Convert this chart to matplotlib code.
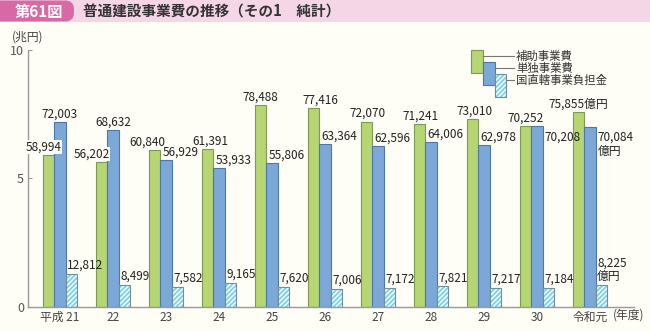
import matplotlib.pyplot as plt, numpy as np
from matplotlib import font_manager
from matplotlib.patches import Rectangle, FancyBboxPatch

# 普通建設事業費（純計）, 単位: 億円
years = ["平成 21", "22", "23", "24", "25", "26", "27", "28", "29", "30", "令和元"]
hojo = [58994, 56202, 60840, 61391, 78488, 77416, 72070, 71241, 73010, 70252, 75855]
tandoku = [72003, 68632, 56929, 53933, 55806, 63364, 62596, 64006, 62978, 70208, 70084]
chokkatsu = [12812, 8499, 7582, 9165, 7620, 7006, 7172, 7821, 7217, 7184, 8225]
series_names = ["補助事業費", "単独事業費", "国直轄事業負担金"]


def has_font(name):
    try:
        font_manager.findfont(name, fallback_to_default=False)
        return True
    except ValueError:
        return False


JP = ["Noto Sans CJK JP", "DejaVu Sans"]
NUM = ["Liberation Sans Narrow"] + JP if has_font("Liberation Sans Narrow") else JP
plt.rcParams["font.family"] = JP

BG = "#fefdf6"
GREEN, GREEN_E = "#b6d674", "#7d9a55"
BLUE, BLUE_E = "#7ba8d7", "#4e77a6"
CYAN, CYAN_E = "#7fd3ea", "#6f8f99"
TXT = "#222222"

fig = plt.figure(figsize=(6.5, 3.32), dpi=100, facecolor=BG)
ax = fig.add_axes([27.5 / 650, 25.5 / 332, (634 - 27.5) / 650, (306.5 - 50) / 332])
ax.patch.set_alpha(0)

x = np.arange(len(years))
w = 0.213
g = np.array(hojo) / 10000
b = np.array(tandoku) / 10000
c = np.array(chokkatsu) / 10000

ax.bar(x - w, g, w, color=GREEN, edgecolor=GREEN_E, lw=0.8, zorder=2)
ax.bar(x, b, w, color=BLUE, edgecolor=BLUE_E, lw=0.8, zorder=2)
ax.bar(x + w, c, w, color=CYAN, edgecolor="white", hatch="///////", lw=0, zorder=2)
ax.bar(x + w, c, w, color="none", edgecolor=CYAN_E, lw=0.8, zorder=3)

ax.set_xlim(-0.613, 10.83)
ax.set_ylim(0, 10)
ax.set_yticks([0, 5, 10])
ax.set_xticks(x)
ax.set_xticklabels(years)
ax.tick_params(axis="y", direction="in", length=3, width=0.8, color="#999999",
               pad=2.5, labelsize=9, labelcolor="#555555")
ax.tick_params(axis="x", length=0, pad=3, labelsize=8.5, labelcolor="#444444")
for s in ["top", "right"]:
    ax.spines[s].set_visible(False)
for s in ["left", "bottom"]:
    ax.spines[s].set_color("#9a9a9a")
    ax.spines[s].set_linewidth(1)

lab = dict(textcoords="offset pixels", fontsize=8.5, color=TXT, family=NUM, zorder=5)
halo = dict(boxstyle="square,pad=0.05", facecolor=BG, edgecolor="none")

# 補助事業費
g_dx = [-5, -10, -7, 3, 0, 7, 1, 1, 2, 0, 0]
for i, v in enumerate(hojo):
    t = f"{v:,}" + ("億円" if i == len(hojo) - 1 else "")
    ax.annotate(t, (x[i] - w, g[i]), xytext=(g_dx[i], 1.5), ha="center", va="bottom",
                bbox=halo, **lab)

# 単独事業費
for i, v in enumerate(tandoku):
    t = f"{v:,}"
    if i >= 9:
        if i == len(tandoku) - 1:
            t += "\n億円"
        ax.annotate(t, (x[i] + w / 2, b[i]), xytext=(2, -4), ha="left", va="top",
                    linespacing=1.1, **lab)
    elif b[i] > g[i]:
        ax.annotate(t, (x[i], b[i]), xytext=(0, 1.5), ha="center", va="bottom", **lab)
    else:
        ax.annotate(t, (x[i] - w / 2, b[i]), xytext=(2.5, 1.5), ha="left", va="bottom", **lab)

# 国直轄事業負担金
for i, v in enumerate(chokkatsu):
    t = f"{v:,}" + ("\n億円" if i == len(chokkatsu) - 1 else "")
    ax.annotate(t, (x[i] + w / 2, c[i]), xytext=(1.5, 2), ha="left", va="bottom",
                linespacing=1.1, **lab)

# 単位・年度
fig.text(12 / 650, 1 - 37 / 332, "(兆円)", fontsize=8.5, color="#444444", va="center")
fig.text(613 / 650, 1 - 315 / 332, "(年度)", fontsize=8.5, color="#444444", va="center")

# 見出しと凡例はピクセル座標で描く
ov = fig.add_axes([0, 0, 1, 1], zorder=10)
ov.set_xlim(0, 650)
ov.set_ylim(332, 0)
ov.axis("off")
ov.patch.set_visible(False)

ov.add_patch(Rectangle((0, 0), 650, 22, color="#f4d6e6", lw=0))
ov.add_patch(FancyBboxPatch((-12, 0.5), 86, 21, boxstyle="round,pad=0,rounding_size=9",
                            color="#d769a4", lw=0))
ov.text(39, 11.5, "第61図", color="white", fontsize=11, weight="bold", ha="center", va="center")
ov.text(83, 11.5, "普通建設事業費の推移（その1　純計）", color="#333333", fontsize=10.5,
        weight="bold", ha="left", va="center")

leg_x = [471, 483, 494.5]
leg_y = [50, 62, 74]
fills = [(GREEN, GREEN_E, None), (BLUE, BLUE_E, None), (CYAN, CYAN_E, "///////")]
for lx, ly, (fc, ec, h), name in zip(leg_x, leg_y, fills, series_names):
    if h:
        ov.add_patch(Rectangle((lx, ly), 11.5, 23, facecolor=fc, edgecolor="white", hatch=h, lw=0))
        ov.add_patch(Rectangle((lx, ly), 11.5, 23, facecolor="none", edgecolor=ec, lw=0.8))
    else:
        ov.add_patch(Rectangle((lx, ly), 11.5, 23, facecolor=fc, edgecolor=ec, lw=0.8))
    ov.plot([lx + 11.5, 514], [ly + 6, ly + 6], color="#777777", lw=0.8)
    ov.text(516, ly + 6, name, fontsize=8.2, color="#333333", ha="left", va="center")

fig.savefig("out.png", dpi=100, facecolor=BG)
